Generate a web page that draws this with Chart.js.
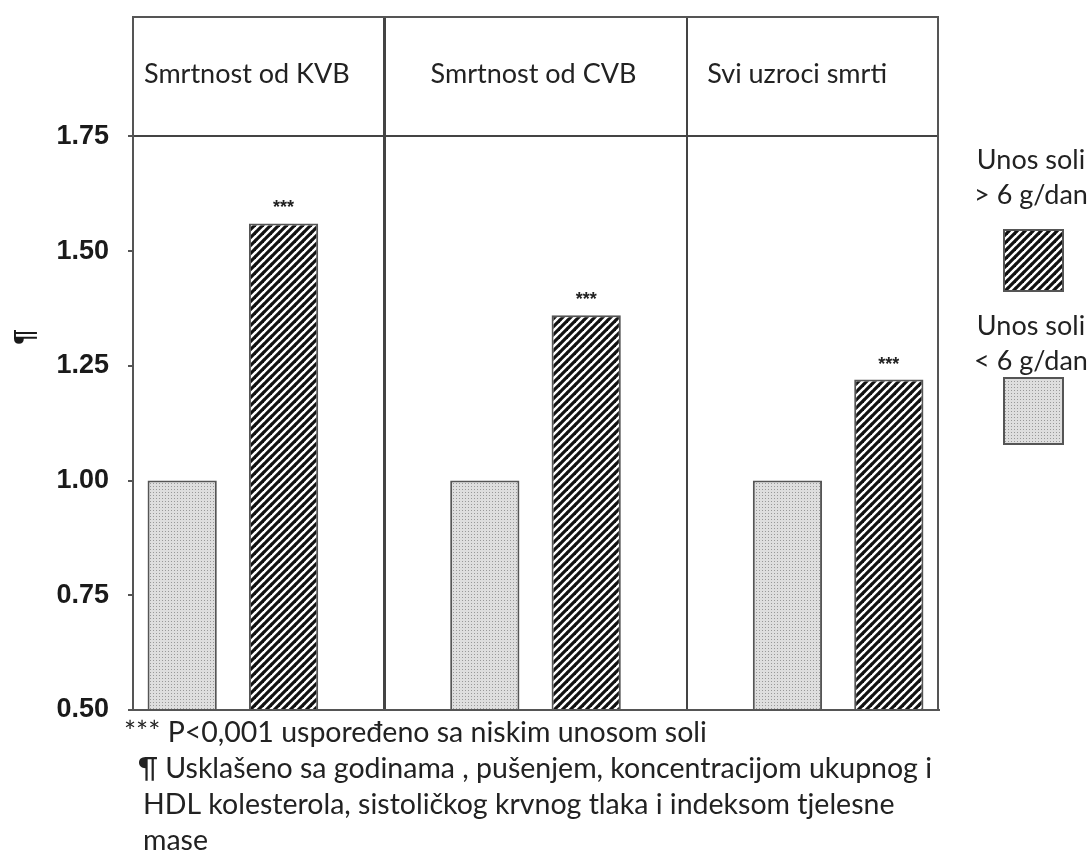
<!DOCTYPE html>
<html>
<head>
<meta charset="utf-8">
<script src="https://cdn.jsdelivr.net/npm/chart.js@4.4.0/dist/chart.umd.min.js"></script>
<style>
  html, body { margin: 0; padding: 0; background: #fff; }
  #wrap { width: 1092px; height: 852px; position: relative; }
</style>
</head>
<body>
<div id="wrap"><canvas id="myChart"></canvas></div>
<script>
// podaci
var categories = ['Smrtnost od KVB', 'Smrtnost od CVB', 'Svi uzroci smrti'];
var lowSalt = [1.00, 1.00, 1.00];
var highSalt = [1.56, 1.36, 1.22];
var significance = ['***', '***', '***'];
var yTicks = [0.50, 0.75, 1.00, 1.25, 1.50, 1.75];
var yTitle = '¶';
var legendHigh = ['Unos soli', '> 6 g/dan'];
var legendLow = ['Unos soli', '< 6 g/dan'];
var footnotes = [
  '*** P<0,001 uspoređeno sa niskim unosom soli',
  '¶ Usklašeno sa godinama , pušenjem, koncentracijom ukupnog i',
  'HDL kolesterola, sistoličkog krvnog tlaka i indeksom tjelesne',
  'mase'
];

var textFont = 'Lato, "Open Sans", sans-serif';
var textColor = '#222';

function makeDots() {
  var c = document.createElement('canvas');
  c.width = 3; c.height = 3;
  var g = c.getContext('2d');
  g.fillStyle = '#dedede';
  g.fillRect(0, 0, 3, 3);
  g.fillStyle = '#999';
  g.fillRect(0, 0, 1, 1);
  return g.createPattern(c, 'repeat');
}
function makeHatch() {
  var s = 8;
  var c = document.createElement('canvas');
  c.width = s; c.height = s;
  var g = c.getContext('2d');
  g.fillStyle = '#fff';
  g.fillRect(0, 0, s, s);
  g.strokeStyle = '#111';
  g.lineWidth = 3.2;
  for (var k = -1; k <= 1; k++) {
    g.beginPath();
    g.moveTo(k * s - 1, s + 1);
    g.lineTo(k * s + s + 1, -1);
    g.stroke();
  }
  return g.createPattern(c, 'repeat');
}
var dots = makeDots();
var hatch = makeHatch();

var extras = {
  id: 'extras',
  afterDatasetsDraw: function (chart) {
    var ctx = chart.ctx;
    var a = chart.chartArea;
    var xs = chart.scales.x;
    ctx.save();
    // okvir
    ctx.strokeStyle = '#555';
    ctx.lineWidth = 2;
    ctx.strokeRect(a.left, a.top, a.right - a.left, a.bottom - a.top);

    // zvjezdice iznad barova
    var meta = chart.getDatasetMeta(1);
    ctx.fillStyle = '#222';
    ctx.font = 'bold 18px "Liberation Sans", Arial, sans-serif';
    ctx.textAlign = 'center';
    ctx.textBaseline = 'middle';
    meta.data.forEach(function (bar, i) {
      ctx.fillText(significance[i], bar.x, bar.y - 15);
    });

    // oznaka osi y (zarotirana)
    ctx.save();
    ctx.translate(25, 337);
    ctx.rotate(-Math.PI / 2);
    ctx.fillStyle = '#1a1a1a';
    ctx.font = 'bold 28px "Liberation Sans", Arial, sans-serif';
    ctx.fillText(yTitle, 0, 0);
    ctx.restore();

    // naslovi kategorija
    var shift = [14, -2, -41];
    ctx.fillStyle = textColor;
    ctx.font = '27px ' + textFont;
    categories.forEach(function (c, i) {
      ctx.fillText(c, xs.getPixelForValue(i) + shift[i], 74);
    });

    // legenda
    var lx = 1031;
    ctx.fillText(legendHigh[0], lx, 160);
    ctx.fillText(legendHigh[1], lx, 195);
    ctx.fillText(legendLow[0], lx, 326);
    ctx.fillText(legendLow[1], lx, 361);
    ctx.lineWidth = 2;
    ctx.strokeStyle = '#555';
    ctx.fillStyle = hatch;
    ctx.fillRect(1004, 230, 59, 61);
    ctx.strokeRect(1004, 230, 59, 61);
    ctx.fillStyle = dots;
    ctx.fillRect(1004, 378, 59, 66);
    ctx.strokeRect(1004, 378, 59, 66);

    // fusnote
    ctx.fillStyle = textColor;
    ctx.textAlign = 'left';
    ctx.font = '28.5px ' + textFont;
    ctx.fillText(footnotes[0], 124, 733);
    ctx.fillText(footnotes[1], 138, 769);
    ctx.fillText(footnotes[2], 143, 805);
    ctx.fillText(footnotes[3], 143, 841);
    ctx.restore();
  }
};

var ctx = document.getElementById('myChart').getContext('2d');
var myChart = new Chart(ctx, {
  type: 'bar',
  data: {
    datasets: [{
      label: legendLow.join(' '),
      data: categories.map(function (c, i) { return { x: i, y: lowSalt[i] }; }),
      backgroundColor: dots,
      borderColor: '#555',
      borderWidth: 2,
      base: 0.5,
      categoryPercentage: 0.67,
      barPercentage: 0.683
    }, {
      label: legendHigh.join(' '),
      data: categories.map(function (c, i) { return { x: i, y: highSalt[i] }; }),
      backgroundColor: hatch,
      borderColor: '#555',
      borderWidth: 2,
      base: 0.5,
      categoryPercentage: 0.67,
      barPercentage: 0.683
    }]
  },
  options: {
    responsive: true,
    maintainAspectRatio: false,
    animation: false,
    layout: { padding: { left: 0, top: 17, right: 154, bottom: 142 } },
    plugins: {
      legend: { display: false },
      tooltip: { enabled: false }
    },
    scales: {
      x: {
        type: 'linear',
        min: -0.33,
        max: 2.33,
        offset: false,
        afterBuildTicks: function (scale) {
          scale.ticks = [{ value: 0.5 }, { value: 1.5 }];
        },
        afterFit: function (scale) { scale.height = 0; },
        ticks: { display: false },
        grid: {
          offset: false,
          drawTicks: false,
          color: '#444',
          lineWidth: function (c) { return c.index === 0 ? 3 : 2; }
        },
        border: { display: true, color: '#555', width: 2 }
      },
      y: {
        min: 0.5,
        max: 2.01,
        afterBuildTicks: function (scale) {
          scale.ticks = yTicks.map(function (v) { return { value: v }; });
        },
        afterFit: function (scale) {
          scale.width = 133;
          scale.paddingTop = 0;
          scale.paddingBottom = 0;
        },
        ticks: {
          padding: 19,
          color: '#1a1a1a',
          font: { family: '"Liberation Sans", Arial, sans-serif', size: 27, weight: 'bold' },
          callback: function (v) { return v.toFixed(2); }
        },
        grid: {
          color: function (c) { return c.tick && c.tick.value === 1.75 ? '#444' : 'rgba(0,0,0,0)'; },
          tickColor: '#555',
          tickLength: 5,
          lineWidth: 2
        },
        border: { display: true, color: '#555', width: 2 }
      }
    }
  },
  plugins: [extras]
});
</script>
</body>
</html>
